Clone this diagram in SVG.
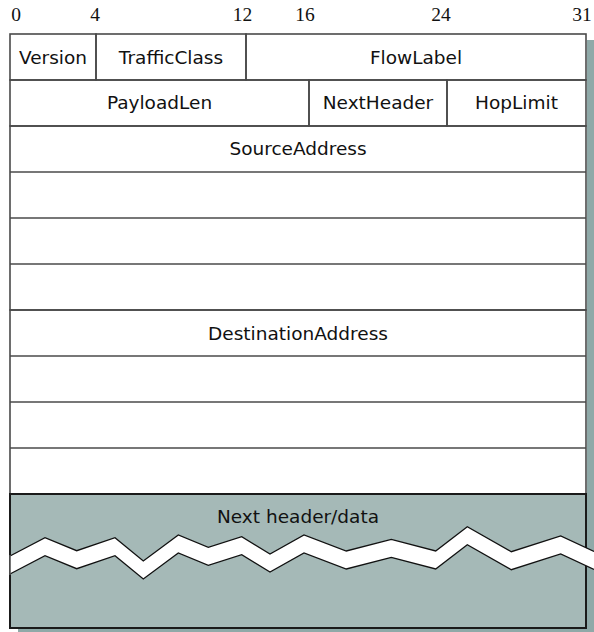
<svg xmlns="http://www.w3.org/2000/svg" width="594" height="632" viewBox="0 0 594 632">
<style>
.num{font-family:"Liberation Serif","Times New Roman",serif;font-size:19.5px;fill:#111;text-anchor:middle}
.lbl{font-family:"DejaVu Sans","Liberation Sans",sans-serif;font-size:18.5px;fill:#111;text-anchor:middle}
.cell{fill:none;stroke:#4a4a4a;stroke-width:1.6}
.div{stroke:#4a4a4a;stroke-width:1.6}
.zig{fill:none;stroke:#111;stroke-width:1.3;stroke-linejoin:miter}
</style>
<rect x="0" y="0" width="594" height="632" fill="#ffffff"/>
<g id="shadow" fill="#8fa9a8">
<rect x="587" y="40" width="7" height="592"/>
<rect x="18" y="629" width="576" height="3"/>
</g>
<g id="scale">
<text class="num" x="16" y="21">0</text>
<text class="num" x="95" y="21">4</text>
<text class="num" x="242.5" y="21">12</text>
<text class="num" x="305" y="21">16</text>
<text class="num" x="441" y="21">24</text>
<text class="num" x="582" y="21">31</text>
</g>
<rect x="10" y="34" width="576" height="460" fill="#ffffff"/>
<g id="version"><rect class="cell" x="10" y="34" width="86" height="46"/><text class="lbl" x="53" y="63.5">Version</text></g>
<g id="trafficclass"><rect class="cell" x="96" y="34" width="150" height="46"/><text class="lbl" x="171" y="63.5">TrafficClass</text></g>
<g id="flowlabel"><rect class="cell" x="246" y="34" width="340" height="46"/><text class="lbl" x="416" y="63.5">FlowLabel</text></g>
<g id="payloadlen"><rect class="cell" x="10" y="80" width="299" height="46"/><text class="lbl" x="159.5" y="109">PayloadLen</text></g>
<g id="nextheader"><rect class="cell" x="309" y="80" width="138" height="46"/><text class="lbl" x="378" y="109">NextHeader</text></g>
<g id="hoplimit"><rect class="cell" x="447" y="80" width="139" height="46"/><text class="lbl" x="516.5" y="109">HopLimit</text></g>
<g id="sourceaddress">
<rect class="cell" x="10" y="126" width="576" height="184"/>
<line class="div" x1="10" y1="172" x2="586" y2="172"/>
<line class="div" x1="10" y1="218" x2="586" y2="218"/>
<line class="div" x1="10" y1="264" x2="586" y2="264"/>
<text class="lbl" x="298" y="155">SourceAddress</text>
</g>
<g id="destinationaddress">
<rect class="cell" x="10" y="310" width="576" height="184"/>
<line class="div" x1="10" y1="356" x2="586" y2="356"/>
<line class="div" x1="10" y1="402" x2="586" y2="402"/>
<line class="div" x1="10" y1="448" x2="586" y2="448"/>
<text class="lbl" x="298" y="339.5">DestinationAddress</text>
</g>
<g id="nextheaderdata">
<rect x="10" y="494" width="576" height="134" fill="#a5b9b7" stroke="#1a1a1a" stroke-width="2"/>
<polygon fill="#ffffff" points="10,556 45,537.7 76.7,550.7 115,537.7 143.3,561 178.3,535 208.3,547.3 241.7,536.7 270,554 304,535 346.3,551 391.3,539.3 435.7,551 467.3,526.7 511.3,551.7 560.7,536 594,551.4 594,569.4 560.7,554 511.3,569.7 467.3,544.7 435.7,569 391.3,557.3 346.3,569 304,553 270,572 241.7,554.7 208.3,565.3 178.3,553 143.3,579 115,555.7 76.7,568.7 45,555.7 10,574"/>
<polyline class="zig" points="10,556 45,537.7 76.7,550.7 115,537.7 143.3,561 178.3,535 208.3,547.3 241.7,536.7 270,554 304,535 346.3,551 391.3,539.3 435.7,551 467.3,526.7 511.3,551.7 560.7,536 594,551.4"/>
<polyline class="zig" points="10,574 45,555.7 76.7,568.7 115,555.7 143.3,579 178.3,553 208.3,565.3 241.7,554.7 270,572 304,553 346.3,569 391.3,557.3 435.7,569 467.3,544.7 511.3,569.7 560.7,554 594,569.4"/>
<line x1="10" y1="555" x2="10" y2="575" stroke="#555" stroke-width="1.6"/>
<text class="lbl" x="298" y="523">Next header/data</text>
</g>
</svg>
